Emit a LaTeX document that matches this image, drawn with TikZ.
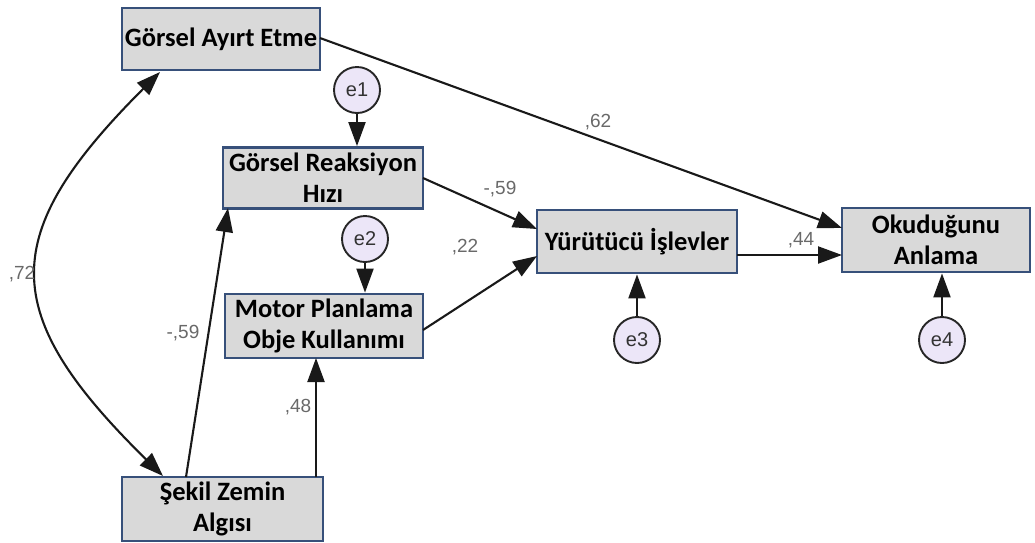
\documentclass[tikz,border=0pt]{standalone}
\usepackage{fontspec}
\setmainfont{Carlito}
\newfontfamily\lblfont{Liberation Sans}
\usetikzlibrary{arrows.meta}
\definecolor{boxfill}{RGB}{217,217,217}
\definecolor{boxedge}{RGB}{55,80,122}
\definecolor{efill}{RGB}{236,230,248}
\definecolor{lblgray}{RGB}{105,105,105}
\tikzset{
  var/.style={draw=boxedge, line width=2.8pt, fill=boxfill, rectangle, inner sep=0pt,
    font=\fontsize{26.5}{31}\selectfont\bfseries, align=center, text=black},
  errc/.style={draw=black!85, line width=1.9pt, fill=efill, circle, minimum size=46pt, inner sep=0pt,
    font=\lblfont\fontsize{20}{22}\selectfont, text=black!80},
  path/.style={draw=black!90, line width=2.1pt, -{Triangle[length=24pt,width=17pt]}},
  lbl/.style={font=\lblfont\fontsize{19}{21}\selectfont, text=lblgray, inner sep=0pt}
}
\begin{document}
\begin{tikzpicture}[x=1pt,y=-1pt]
\useasboundingbox (0,0) rectangle (1035,542);
% boxes
\node[var, minimum width=198pt, minimum height=62pt] (gae) at (221,39) {Görsel Ayırt Etme};
\node[var, minimum width=200pt, minimum height=61pt] (grh) at (323,178) {Görsel Reaksiyon\\Hızı};
\node[var, minimum width=198pt, minimum height=64pt] (mpo) at (324,326) {Motor Planlama\\Obje Kullanımı};
\node[var, minimum width=200pt, minimum height=63pt] (yi) at (637,241.5) {Yürütücü İşlevler};
\node[var, minimum width=188pt, minimum height=64pt] (oa) at (936,240) {Okuduğunu\\Anlama};
\node[var, minimum width=201pt, minimum height=64pt] (sza) at (222.5,509) {Şekil Zemin\\Algısı};
% error terms
\node[errc] (e1) at (357,90) {e1};
\node[errc] (e2) at (365,239) {e2};
\node[errc] (e3) at (637,340) {e3};
\node[errc] (e4) at (942,340) {e4};
% error paths
\draw[path] (e1) -- (e1 |- grh.north);
\draw[path] (e2) -- (e2 |- mpo.north);
\draw[path] (e3) -- (e3 |- yi.south);
\draw[path] (e4) -- (e4 |- oa.south);
% structural paths
\coordinate (gaeS) at (320,38);
\coordinate (oaA) at (842,228);
\coordinate (oaB) at (842,255);
\coordinate (yiA) at (537,229);
\coordinate (yiB) at (537,256);
\coordinate (yiOut) at (737,255);
\coordinate (grhOut) at (423,178);
\coordinate (mpoOut) at (423,330);
\coordinate (szaA) at (186,477);
\coordinate (grhIn) at (228,208);
\coordinate (szaB) at (316,477);
\coordinate (mpoIn) at (316,358);
\draw[path] (gaeS) -- (oaA);
\draw[path] (grhOut) -- (yiA);
\draw[path] (mpoOut) -- (yiB);
\draw[path] (yiOut) -- (oaB);
\draw[path] (szaA) -- (grhIn);
\draw[path] (szaB) -- (mpoIn);
% covariance
\coordinate (covA) at (160,72);
\coordinate (covB) at (163,476);
\draw[draw=black!90, line width=2.1pt, {Triangle[length=24pt,width=17pt]}-{Triangle[length=24pt,width=17pt]}]
  (covA) .. controls (-3,235) and (-3,313) .. (covB);
% labels
\node[lbl] (l62) at (598,122) {,62};
\node[lbl] (l59a) at (500,189) {-,59};
\node[lbl] (l22) at (465,247) {,22};
\node[lbl] (l44) at (801,240) {,44};
\node[lbl] (l59b) at (183,333) {-,59};
\node[lbl] (l48) at (298,407) {,48};
\node[lbl] (l72) at (22,274) {,72};
\end{tikzpicture}
\end{document}
